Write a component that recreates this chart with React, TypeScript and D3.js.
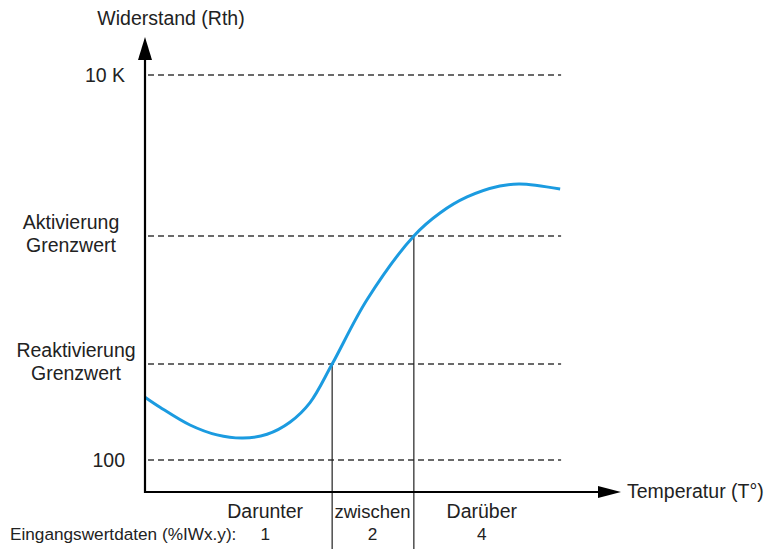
import React from "react";
import * as d3 from "d3";

const W = 765, H = 549;
// abstract temperature (0..100) and resistance (ohm, log scale)
const curveT = [0, 3.16, 9.47, 15.16, 20.6, 25.7, 30.5, 34.7, 39.4, 46.7, 56.6, 62.1, 67.8, 74.7, 78.9, 87.4];
const curveR = [212, 188, 152, 135, 130, 136, 157, 198, 315, 678, 1458, 1919, 2325, 2650, 2716, 2557];
const levelValues = [10000, 1458, 315, 100];
const levelLabels = [["10 K"], ["Aktivierung", "Grenzwert"], ["Reaktivierung", "Grenzwert"], ["100"]];
const switchT = [39.4, 56.6];
const switchLevel = [315, 1458];
const zoneLabels = ["Darunter", "zwischen", "Darüber"];
const zoneCodes = ["1", "2", "4"];
const zoneCenters = [25.3, 47.9, 70.9];

export default function App() {
  const x = d3.scaleLinear().domain([0, 100]).range([145, 620]);
  const y = d3.scaleLog().domain([100, 10000]).range([460, 75]);
  const ox = 145, oy = 492;
  const dashEnd = x(87.6);
  const pts: [number, number][] = curveT.map((t, i) => [x(t), y(curveR[i])]);
  const line = d3.line().curve(d3.curveCatmullRom.alpha(0.5))(pts) || "";
  const font = "Liberation Sans, Arial, sans-serif";
  const labelCx = [0, 71, 76, 0];
  return (
    <svg width={W} height={H} style={{ position: "absolute", left: 0, top: 0 }} fontFamily={font} fontSize={19.5} fill="#222">
      {levelValues.map((v, i) => (
        <line key={i} x1={ox + 3} x2={dashEnd} y1={y(v)} y2={y(v)} stroke="#3a3a3a" strokeWidth={1.5} strokeDasharray="6,4" />
      ))}
      {switchT.map((t, i) => (
        <line key={i} x1={x(t)} x2={x(t)} y1={y(switchLevel[i])} y2={H} stroke="#222" strokeWidth={1.2} />
      ))}
      <path d={line} fill="none" stroke="#1b9be0" strokeWidth={3} />
      {/* axes */}
      <line x1={ox} x2={ox} y1={oy + 1} y2={58} stroke="#000" strokeWidth={2.2} />
      <path d={`M${ox - 7},60 L${ox},37 L${ox + 7},60 Z`} fill="#000" />
      <line x1={ox - 1} x2={600} y1={oy} y2={oy} stroke="#000" strokeWidth={2.2} />
      <path d={`M598,${oy - 6} L621,${oy} L598,${oy + 6} Z`} fill="#000" />
      <text x={171} y={25} textAnchor="middle">Widerstand (Rth)</text>
      <text x={627} y={498}>Temperatur (T°)</text>
      {levelLabels.map((lbl, i) =>
        lbl.length === 1 ? (
          <text key={i} x={125} y={y(levelValues[i]) + 7} textAnchor="end">{lbl[0]}</text>
        ) : (
          <text key={i} textAnchor="middle">
            <tspan x={labelCx[i]} y={y(levelValues[i]) - 7}>{lbl[0]}</tspan>
            <tspan x={labelCx[i]} y={y(levelValues[i]) + 16}>{lbl[1]}</tspan>
          </text>
        )
      )}
      {zoneLabels.map((z, i) => (
        <text key={i} x={x(zoneCenters[i])} y={518} textAnchor="middle" fontSize={i === 1 ? 18.5 : 19.5}>{z}</text>
      ))}
      <text x={10} y={540} fontSize={17.2}>Eingangswertdaten (%IWx.y):</text>
      {zoneCodes.map((c, i) => (
        <text key={i} x={x(zoneCenters[i])} y={540} fontSize={17.2} textAnchor="middle">{c}</text>
      ))}
    </svg>
  );
}
